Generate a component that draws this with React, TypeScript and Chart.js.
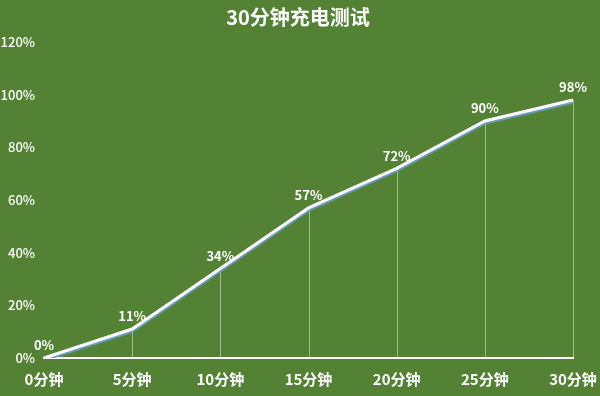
import React, { useEffect, useRef } from "react";
import { Chart, registerables } from "chart.js";

Chart.register(...registerables);

const TITLE = "30分钟充电测试";
const categories = ["0分钟", "5分钟", "10分钟", "15分钟", "20分钟", "25分钟", "30分钟"];
const chargeValues = [0, 11, 34, 57, 72, 90, 98];
const yTicks = [0, 20, 40, 60, 80, 100, 120];

const FONT = '"Noto Sans CJK SC", "Noto Sans", sans-serif';
const BG = "#548235";

const bgPlugin = {
  id: "bg",
  beforeDraw(chart: any) {
    const { ctx, width, height } = chart;
    ctx.save();
    ctx.fillStyle = BG;
    ctx.fillRect(0, 0, width, height);
    ctx.fillStyle = "#ffffff";
    ctx.font = `bold 20px ${FONT}`;
    ctx.textAlign = "center";
    ctx.textBaseline = "middle";
    ctx.fillText(TITLE, 298, 17);
    ctx.restore();
  },
};

const dropLinePlugin = {
  id: "dropLines",
  beforeDatasetsDraw(chart: any) {
    const { ctx } = chart;
    const meta = chart.getDatasetMeta(0);
    const bottom = chart.scales.y.getPixelForValue(0);
    ctx.save();
    ctx.strokeStyle = "rgba(255,255,255,0.45)";
    ctx.lineWidth = 1;
    meta.data.forEach((pt: any, i: number) => {
      if (i === 0) return;
      const x = Math.round(pt.x) + 0.5;
      ctx.beginPath();
      ctx.moveTo(x, pt.y);
      ctx.lineTo(x, bottom);
      ctx.stroke();
    });
    ctx.restore();
  },
  beforeDatasetDraw(chart: any) {
    const { ctx } = chart;
    ctx.save();
    ctx.shadowColor = "rgba(110,160,205,0.95)";
    ctx.shadowOffsetX = 0;
    ctx.shadowOffsetY = 2;
    ctx.shadowBlur = 1;
  },
  afterDatasetDraw(chart: any) {
    chart.ctx.restore();
  },
  afterDatasetsDraw(chart: any) {
    const { ctx } = chart;
    const meta = chart.getDatasetMeta(0);
    ctx.save();
    ctx.fillStyle = "#ffffff";
    ctx.font = `bold 13px ${FONT}`;
    ctx.textAlign = "center";
    ctx.textBaseline = "bottom";
    meta.data.forEach((pt: any, i: number) => {
      ctx.fillText(chargeValues[i] + "%", pt.x, pt.y - 6);
    });
    ctx.restore();
  },
};

export default function App() {
  const ref = useRef<HTMLCanvasElement>(null);
  useEffect(() => {
    document.body.style.margin = "0";
    const chart = new Chart(ref.current!, {
      type: "line",
      data: {
        labels: categories,
        datasets: [
          {
            data: chargeValues,
            borderColor: "#ffffff",
            borderWidth: 3,
            pointRadius: 0,
            tension: 0,
            fill: false,
          },
        ],
      },
      options: {
        responsive: false,
        animation: false,
        layout: { padding: { top: 42, right: 27, left: 0, bottom: 0 } },
        plugins: {
          legend: { display: false },
          title: { display: false },
          tooltip: { enabled: false },
        },
        scales: {
          x: {
            type: "category",
            offset: false,
            grid: { display: false, drawTicks: false },
            border: { display: true, color: "#ffffff", width: 2 },
            ticks: {
              color: "#ffffff",
              font: { family: FONT, size: 15, weight: "bold" },
              padding: 12,
              maxRotation: 0,
              autoSkip: false,
            },
            afterFit(scale: any) {
              scale.height = 38;
              scale.paddingLeft = 0;
              scale.paddingRight = 0;
            },
          },
          y: {
            min: 0,
            max: 120,
            afterBuildTicks(scale: any) {
              scale.ticks = yTicks.map((v) => ({ value: v }));
            },
            grid: { display: false, drawTicks: false },
            border: { display: false },
            ticks: {
              color: "#ffffff",
              font: { family: FONT, size: 13, weight: "500" },
              padding: 9,
              callback: (v: any) => v + "%",
            },
            afterFit(scale: any) {
              scale.width = 44;
            },
          },
        },
      },
      plugins: [bgPlugin, dropLinePlugin],
    } as any);
    return () => chart.destroy();
  }, []);
  return (
    <div style={{ width: 600, height: 396 }}>
      <canvas ref={ref} width={600} height={396} />
    </div>
  );
}
